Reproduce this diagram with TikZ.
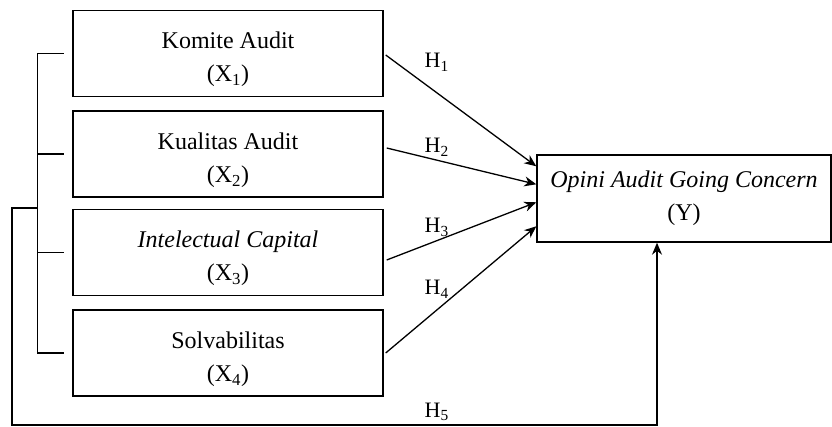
\documentclass[tikz,border=0pt]{standalone}
\usepackage{fontspec}
\setmainfont{Liberation Serif}
\usetikzlibrary{calc, arrows.meta}
\usetikzlibrary{positioning}
\newcommand{\atas}{\rule{0pt}{29pt}}
\begin{document}
\begin{tikzpicture}[x=1pt,y=-1pt,line width=1.4pt,
    kotak/.style={draw,minimum width=310pt,minimum height=86pt,inner sep=0pt,align=center,
        font=\fontsize{24}{33}\selectfont},
    hlabel/.style={anchor=base west,inner sep=0pt,font=\fontsize{22}{26}\selectfont},
    panah/.style={->,>={Stealth[length=12pt,width=10pt]},line width=1.3pt}]
    \useasboundingbox (0,0) rectangle (832,427);
    \node[kotak] (x1) at (228,53.5) {\atas Komite Audit\\(X\textsubscript{1})}; %X1
    \node[kotak] (x2) at (228,154) {\atas Kualitas Audit\\(X\textsubscript{2})}; %X2
    \node[kotak] (x3) at (228,252.5) {\atas\textit{Intelectual Capital}\\(X\textsubscript{3})}; %X3
    \node[kotak] (x4) at (228,353) {\atas Solvabilitas\\(X\textsubscript{4})}; %X4
    \node[kotak,minimum width=294pt,minimum height=87pt] (y) at (684,198.5) {\textit{Opini Audit Going Concern}\\(Y)}; %Y
    % kurung kiri
    \coordinate (b1) at ($(x1.west)+(-35,0)$);
    \coordinate (b2) at ($(x2.west)+(-35,0)$);
    \coordinate (b3) at ($(x3.west)+(-35,0)$);
    \coordinate (b4) at ($(x4.west)+(-35,0)$);
    \draw (b1) -- ($(x1.west)+(-8,0)$);
    \draw (b2) -- ($(x2.west)+(-8,0)$);
    \draw (b3) -- ($(x3.west)+(-8,0)$);
    \draw (b4) -- ($(x4.west)+(-8,0)$);
    \draw (b1) -- (b4);
    \coordinate (k) at (38,208); %simultan
    \draw[panah] (k) -- (12,208) -- (12,425) -| ($(y.south)+(-27,0)$); %H5
    % panah H1--H4
    \draw[panah] ($(x1.east)+(2,1.5)$) -- ($(y.north west)+(0,12)$);
    \draw[panah] ($(x2.east)+(3,-6)$) -- ($(y.north west)+(0,30)$);
    \draw[panah] ($(x3.east)+(3,7.5)$) -- ($(y.north west)+(0,48)$);
    \draw[panah] ($(x4.east)+(2,0)$) -- ($(y.north west)+(0,72)$);
    \node[hlabel] (h1) at (424,68) {H\textsubscript{1}};
    \node[hlabel] (h2) at (424,153) {H\textsubscript{2}};
    \node[hlabel] (h3) at (424,233) {H\textsubscript{3}};
    \node[hlabel] (h4) at (424,295) {H\textsubscript{4}};
    \node[hlabel] (h5) at (424,417) {H\textsubscript{5}};
\end{tikzpicture}
\end{document}
